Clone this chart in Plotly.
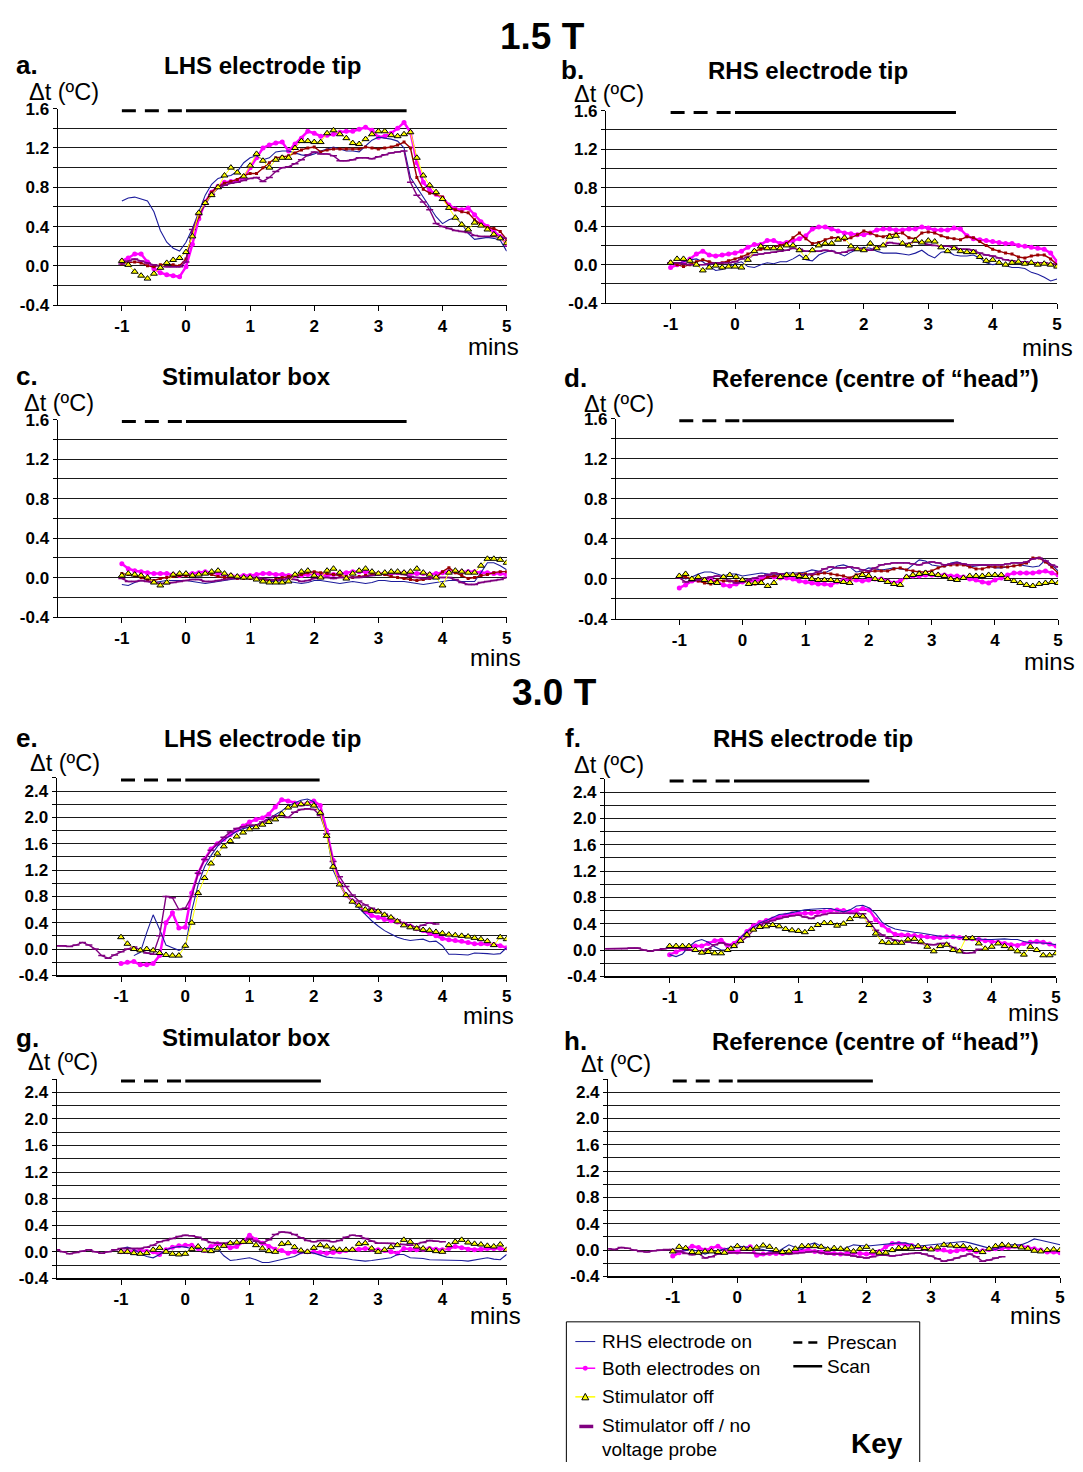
import numpy as np
import plotly.graph_objects as go

W, H = 1083, 1472
STEP = 0.1  # sampling interval of the recordings (min)

# ---------------- 1.5 T data (Δt in °C, samples every 0.1 min) ----------------
# panel a: LHS electrode tip, start -1.0 min
a_blue = [0.66,0.69,0.70,0.68,0.66,0.55,0.36,0.24,0.18,0.15,
          0.24,0.38,0.56,0.72,0.83,0.89,0.91,0.92,0.96,1.05,
          1.10,1.12,1.08,1.10,1.16,1.17,1.17,1.15,1.13,1.12,
          1.14,1.17,1.19,1.21,1.19,1.17,1.17,1.16,1.22,1.28,
          1.31,1.30,1.29,1.27,1.20,0.90,0.80,0.70,0.60,0.50,
          0.43,0.47,0.49,0.43,0.33,0.27,0.28,0.29,0.28,0.26,0.15]
a_mag = [0.05,0.08,0.12,0.12,0.04,-0.03,-0.07,-0.09,-0.10,-0.11,
         -0.01,0.22,0.48,0.65,0.75,0.81,0.85,0.86,0.87,0.90,
         1.00,1.10,1.20,1.23,1.25,1.26,1.17,1.24,1.30,1.37,
         1.35,1.32,1.33,1.34,1.36,1.37,1.37,1.39,1.41,1.38,
         1.31,1.32,1.35,1.40,1.46,1.36,1.05,0.85,0.77,0.73,
         0.69,0.62,0.58,0.57,0.59,0.52,0.45,0.40,0.35,0.30,0.22]
a_yel = [0.05,0.01,-0.06,-0.10,-0.13,-0.08,-0.02,0.03,0.06,0.08,
         0.14,0.30,0.54,0.64,0.72,0.80,0.92,1.00,0.95,0.91,
         1.02,1.14,1.07,1.00,1.08,1.10,1.10,1.20,1.27,1.27,
         1.26,1.26,1.35,1.38,1.34,1.30,1.25,1.24,1.29,1.34,
         1.37,1.37,1.33,1.32,1.34,1.36,1.10,0.92,0.82,0.75,
         0.68,0.59,0.49,0.42,0.37,0.44,0.41,0.37,0.32,0.28,0.23]
a_red = [0.02,0.03,0.04,0.03,0.00,-0.01,0.01,0.02,0.01,0.00,
         0.07,0.34,0.50,0.65,0.75,0.81,0.84,0.86,0.88,0.92,
         0.94,0.94,1.00,1.05,1.10,1.11,1.12,1.15,1.18,1.20,
         1.21,1.16,1.18,1.19,1.19,1.19,1.19,1.19,1.21,1.20,
         1.19,1.20,1.21,1.23,1.26,1.20,0.90,0.78,0.74,0.73,
         0.70,0.60,0.57,0.55,0.54,0.47,0.42,0.39,0.38,0.35,0.27]
a_pur = [0.02,0.05,0.07,0.05,0.03,0.01,0.00,-0.01,-0.01,-0.01,
         0.04,0.37,0.52,0.63,0.73,0.79,0.82,0.84,0.85,0.87,
         0.89,0.90,0.86,0.90,0.96,1.00,1.01,1.04,1.08,1.13,
         1.16,1.14,1.14,1.12,1.07,1.07,1.08,1.10,1.10,1.09,
         1.11,1.13,1.15,1.16,1.17,0.85,0.72,0.65,0.57,0.43,
         0.40,0.38,0.36,0.35,0.34,0.31,0.30,0.30,0.30,0.29,0.28]

# panel b: RHS electrode tip
b_blue = [0.03,0.01,0.03,0.05,0.06,0.03,-0.02,-0.06,-0.05,-0.02,
          0.01,0.03,-0.02,-0.03,0.00,0.02,0.01,0.03,0.03,0.06,
          0.10,0.05,0.04,0.10,0.13,0.15,0.12,0.09,0.13,0.16,
          0.18,0.17,0.14,0.12,0.12,0.12,0.11,0.10,0.12,0.15,
          0.10,0.07,0.13,0.14,0.10,0.09,0.09,0.10,0.07,0.02,
          0.00,0.01,-0.01,-0.03,-0.03,-0.04,-0.08,-0.10,-0.13,-0.17,-0.15]
b_mag = [-0.03,0.00,0.03,0.06,0.11,0.14,0.10,0.09,0.10,0.11,
         0.12,0.14,0.18,0.21,0.21,0.25,0.25,0.22,0.23,0.25,
         0.27,0.30,0.37,0.39,0.39,0.37,0.35,0.33,0.32,0.31,
         0.31,0.33,0.36,0.37,0.37,0.36,0.36,0.37,0.37,0.39,
         0.38,0.36,0.36,0.36,0.38,0.37,0.30,0.27,0.26,0.25,
         0.24,0.23,0.22,0.22,0.20,0.19,0.18,0.17,0.16,0.12,0.03]
b_yel = [0.02,0.06,0.06,0.04,0.00,-0.06,-0.03,-0.01,-0.03,-0.02,
         -0.02,-0.03,0.05,0.14,0.19,0.17,0.17,0.17,0.20,0.20,
         0.15,0.07,0.15,0.20,0.22,0.22,0.26,0.28,0.19,0.16,
         0.15,0.22,0.17,0.20,0.29,0.30,0.22,0.20,0.25,0.23,
         0.25,0.24,0.18,0.14,0.17,0.14,0.13,0.13,0.08,0.04,
         0.05,0.02,0.00,0.02,0.03,0.01,0.02,0.00,0.01,0.00,-0.02]
b_red = [0.03,0.00,-0.02,0.00,0.03,0.05,0.03,0.01,0.02,0.04,
         0.06,0.08,0.11,0.14,0.16,0.17,0.18,0.20,0.22,0.28,
         0.33,0.27,0.22,0.23,0.26,0.28,0.28,0.26,0.28,0.31,
         0.35,0.33,0.30,0.29,0.31,0.32,0.33,0.28,0.27,0.33,
         0.34,0.33,0.30,0.28,0.27,0.26,0.29,0.28,0.24,0.20,
         0.16,0.14,0.12,0.11,0.08,0.07,0.09,0.10,0.10,0.06,0.00]
b_pur = [0.02,0.02,0.01,0.00,0.00,0.00,0.01,0.02,0.02,0.02,
         0.03,0.06,0.08,0.10,0.11,0.12,0.13,0.14,0.15,0.17,
         0.16,0.14,0.14,0.14,0.15,0.14,0.12,0.13,0.15,0.17,
         0.16,0.15,0.18,0.20,0.23,0.22,0.21,0.22,0.24,0.23,
         0.21,0.20,0.19,0.19,0.18,0.16,0.16,0.15,0.12,0.10,
         0.09,0.07,0.05,0.04,0.03,0.03,0.02,0.02,0.02,0.01,0.00]

# panel c: stimulator box
c_blue = [-0.07,-0.08,-0.05,-0.03,-0.04,-0.05,-0.04,-0.03,-0.03,-0.03,
          -0.03,-0.04,-0.05,-0.06,-0.05,-0.04,-0.03,-0.02,-0.01,0.00,
          0.00,-0.01,-0.03,-0.04,-0.04,-0.03,-0.04,-0.05,-0.06,-0.05,
          -0.03,-0.03,-0.04,-0.05,-0.06,-0.05,-0.04,-0.05,-0.06,-0.05,
          -0.03,-0.03,-0.04,-0.04,-0.04,-0.05,-0.06,-0.07,-0.06,-0.05,
          -0.04,-0.03,-0.03,-0.04,-0.04,-0.04,0.05,0.15,0.15,0.12,0.08]
c_mag = [0.14,0.09,0.07,0.06,0.05,0.04,0.04,0.04,0.03,0.02,
         0.03,0.04,0.05,0.06,0.05,0.04,0.03,0.02,0.01,0.02,
         0.02,0.03,0.04,0.04,0.03,0.03,0.02,0.02,0.02,0.03,
         0.04,0.03,0.02,0.03,0.04,0.05,0.06,0.06,0.06,0.05,
         0.04,0.04,0.04,0.05,0.05,0.04,0.04,0.04,0.03,0.04,
         0.05,0.06,0.06,0.06,0.06,0.06,0.05,0.05,0.04,0.04,0.03]
c_yel = [0.02,0.04,0.03,0.02,0.00,-0.05,-0.08,-0.05,0.03,0.04,
         0.04,0.02,0.03,0.04,0.06,0.07,0.04,0.02,0.01,0.00,
         0.00,-0.02,-0.04,-0.05,-0.05,-0.05,-0.04,0.03,0.06,0.07,
         0.02,0.00,0.07,0.09,0.05,-0.01,0.04,0.07,0.09,0.06,
         0.04,0.05,0.06,0.06,0.05,0.06,0.09,0.05,0.03,0.00,
         -0.08,0.05,0.07,0.06,0.05,0.05,0.12,0.19,0.19,0.18,0.15]
c_red = [0.04,0.03,0.02,0.00,-0.02,-0.03,-0.01,0.00,0.01,0.02,
         0.02,0.02,0.03,0.04,0.03,0.01,0.00,0.00,-0.01,-0.01,
         -0.01,-0.01,-0.02,-0.03,-0.02,0.00,0.01,0.02,0.03,0.05,
         0.06,0.05,0.04,0.03,0.02,0.01,0.00,0.01,0.02,0.03,
         0.04,0.03,0.01,0.00,-0.01,-0.02,-0.03,-0.02,-0.01,0.00,
         0.06,0.10,0.05,0.02,-0.01,0.00,0.02,0.03,0.05,0.06,0.06]
c_pur = [-0.01,-0.04,-0.04,-0.03,-0.04,-0.05,-0.06,-0.06,-0.05,-0.04,
         -0.03,-0.02,-0.02,-0.04,-0.04,-0.03,-0.02,-0.01,-0.01,0.00,
         0.00,0.00,-0.01,-0.02,-0.03,-0.02,-0.01,-0.02,-0.04,-0.03,
         -0.01,0.00,0.00,-0.01,0.00,0.00,0.00,0.00,0.01,0.02,
         0.03,0.04,0.04,0.04,0.03,0.01,0.00,-0.01,-0.01,0.00,
         0.00,0.00,-0.02,-0.05,-0.07,-0.07,-0.05,-0.04,-0.03,-0.02,0.00]

# panel d: reference (centre of head)
d_blue = [0.03,0.00,0.02,0.05,0.07,0.07,0.05,0.03,0.05,0.05,
          0.03,0.04,0.05,0.06,0.05,0.04,0.05,0.06,0.06,0.06,
          0.07,0.09,0.08,0.06,0.09,0.13,0.14,0.12,0.07,0.08,
          0.11,0.10,0.09,0.10,0.11,0.10,0.09,0.14,0.19,0.18,
          0.14,0.13,0.12,0.16,0.17,0.15,0.12,0.13,0.14,0.13,
          0.11,0.11,0.12,0.13,0.14,0.13,0.12,0.13,0.19,0.14,0.08]
d_mag = [-0.09,-0.06,-0.02,-0.01,-0.01,-0.01,-0.03,-0.06,-0.07,-0.05,
         -0.03,-0.02,-0.02,0.00,0.03,0.02,0.01,0.01,0.00,-0.02,
         -0.03,-0.04,-0.05,-0.05,-0.06,-0.03,-0.01,-0.01,-0.01,-0.02,
         -0.01,0.00,0.00,-0.02,-0.04,-0.02,0.02,0.03,0.03,0.04,
         0.04,0.04,0.04,0.03,0.03,0.02,0.00,-0.01,-0.03,-0.04,
         -0.01,0.01,0.04,0.06,0.06,0.06,0.06,0.07,0.08,0.06,0.04]
d_yel = [0.03,0.05,0.00,0.02,-0.01,-0.03,-0.04,0.02,0.04,0.02,
         -0.01,-0.05,-0.04,-0.04,-0.07,-0.04,0.02,0.04,0.04,0.03,
         0.02,0.00,-0.01,-0.01,-0.01,-0.02,-0.03,-0.04,0.02,0.04,
         0.03,0.00,-0.01,-0.03,-0.05,-0.06,0.02,0.04,0.05,0.06,
         0.05,0.04,0.03,0.00,-0.01,0.01,0.03,0.03,0.03,0.04,
         0.04,0.04,0.00,-0.02,-0.04,-0.06,-0.07,-0.05,-0.04,-0.03,-0.04]
d_red = [0.03,0.02,0.00,-0.02,-0.04,-0.05,-0.01,-0.02,-0.02,-0.02,
         -0.02,-0.04,-0.05,-0.02,0.02,0.03,0.03,0.03,0.04,0.05,
         0.05,0.04,0.05,0.06,0.05,0.04,0.03,0.01,0.04,0.06,
         0.07,0.08,0.08,0.08,0.10,0.11,0.09,0.08,0.07,0.07,
         0.08,0.11,0.13,0.14,0.14,0.14,0.12,0.10,0.10,0.12,
         0.12,0.12,0.12,0.13,0.14,0.16,0.21,0.21,0.17,0.12,0.06]
d_pur = [0.01,-0.03,-0.02,-0.01,0.01,0.02,0.03,0.01,-0.02,-0.04,
         -0.03,-0.01,0.01,0.03,0.04,0.06,0.05,0.04,0.03,0.04,
         0.04,0.05,0.07,0.10,0.12,0.11,0.11,0.12,0.11,0.09,
         0.08,0.11,0.14,0.15,0.16,0.16,0.16,0.15,0.14,0.16,
         0.17,0.16,0.14,0.15,0.16,0.15,0.14,0.14,0.14,0.14,
         0.14,0.14,0.15,0.16,0.16,0.17,0.20,0.21,0.18,0.14,0.12]

# ---------------- 3.0 T data ----------------
# panel e: LHS electrode tip (purple starts -2.0, blue starts -0.8)
e_blue = [-0.10,-0.05,0.25,0.52,0.30,0.06,0.02,-0.02,
          0.02,0.58,0.98,1.25,1.42,1.56,1.66,1.73,1.79,1.83,
          1.86,1.88,1.93,1.98,2.04,2.10,2.17,2.22,2.26,2.28,
          2.24,2.08,1.75,1.20,0.98,0.82,0.72,0.62,0.52,0.43,
          0.35,0.28,0.23,0.18,0.15,0.13,0.14,0.15,0.11,0.12,
          0.05,-0.08,-0.08,-0.09,-0.09,-0.06,-0.06,-0.07,-0.08,-0.07,0.02]
e_mag = [-0.22,-0.20,-0.19,-0.24,-0.24,-0.22,-0.10,0.40,0.55,0.32,
         0.33,0.85,1.15,1.36,1.52,1.60,1.67,1.74,1.81,1.87,
         1.93,1.97,1.99,2.05,2.16,2.27,2.25,2.22,2.20,2.21,
         2.25,2.18,1.80,1.35,1.00,0.82,0.73,0.67,0.57,0.51,
         0.48,0.45,0.43,0.41,0.38,0.35,0.31,0.28,0.24,0.20,
         0.16,0.14,0.13,0.12,0.10,0.08,0.08,0.08,0.07,0.05,0.02]
e_yel = [0.18,0.08,0.00,-0.02,0.00,-0.02,-0.06,-0.09,-0.10,-0.10,
         0.05,0.40,0.85,1.08,1.30,1.45,1.56,1.64,1.71,1.77,
         1.82,1.85,1.89,1.93,1.97,2.05,2.15,2.18,2.20,2.21,
         2.18,2.07,1.72,1.25,0.98,0.82,0.72,0.66,0.60,0.58,
         0.57,0.52,0.48,0.42,0.36,0.33,0.31,0.29,0.28,0.26,
         0.24,0.22,0.21,0.20,0.19,0.17,0.15,0.12,0.06,0.18,0.15]
e_pur = [0.05,0.05,0.04,0.06,0.10,0.06,0.00,-0.10,-0.14,-0.09,
         -0.04,0.00,0.03,-0.02,-0.06,-0.08,0.20,0.80,0.78,0.60,
         0.62,0.80,1.15,1.36,1.50,1.60,1.70,1.78,1.83,1.86,
         1.88,1.88,1.93,1.97,2.02,2.03,2.00,2.08,2.12,2.13,
         2.12,2.03,1.75,1.33,1.10,0.95,0.82,0.73,0.67,0.62,
         0.57,0.53,0.48,0.44,0.39,0.35,0.33,0.36,0.40,0.38]

# panel f: RHS electrode tip (purple starts -2.0)
f_blue = [-0.07,-0.10,-0.06,0.05,0.13,0.16,0.12,0.05,0.00,0.00,
          0.05,0.19,0.28,0.35,0.41,0.45,0.50,0.54,0.55,0.57,
          0.60,0.61,0.62,0.63,0.63,0.63,0.60,0.58,0.61,0.67,
          0.68,0.64,0.55,0.42,0.36,0.32,0.30,0.28,0.27,0.26,
          0.24,0.22,0.21,0.21,0.20,0.19,0.18,0.17,0.16,0.16,
          0.16,0.17,0.17,0.16,0.16,0.13,0.11,0.11,0.11,0.10,0.08]
f_mag = [-0.07,-0.03,0.02,0.05,0.06,0.06,0.10,0.14,0.15,0.07,
         0.10,0.18,0.28,0.37,0.42,0.45,0.47,0.50,0.53,0.55,
         0.56,0.56,0.56,0.57,0.58,0.60,0.61,0.60,0.58,0.60,
         0.63,0.61,0.46,0.38,0.30,0.24,0.23,0.23,0.22,0.21,
         0.20,0.19,0.19,0.20,0.20,0.19,0.18,0.17,0.16,0.14,
         0.13,0.12,0.10,0.08,0.07,0.10,0.12,0.13,0.12,0.09,0.06]
f_yel = [0.06,0.06,0.06,0.06,0.00,-0.04,-0.03,-0.05,-0.05,0.00,
         0.06,0.14,0.23,0.31,0.35,0.36,0.38,0.36,0.32,0.30,
         0.29,0.27,0.32,0.38,0.41,0.41,0.37,0.40,0.47,0.52,
         0.51,0.38,0.25,0.12,0.11,0.11,0.11,0.16,0.17,0.13,
         0.05,-0.02,0.06,0.08,0.00,-0.02,0.18,0.18,0.10,0.02,
         0.05,0.10,0.06,0.02,-0.02,-0.07,0.05,0.00,-0.08,-0.08,-0.05]
f_pur = [0.02,0.02,0.02,0.02,0.03,0.03,0.00,-0.02,0.00,0.02,
         0.03,0.03,0.02,0.00,-0.01,-0.02,0.02,0.08,0.11,0.08,
         0.06,0.12,0.20,0.30,0.37,0.42,0.45,0.48,0.50,0.52,
         0.53,0.50,0.48,0.52,0.54,0.56,0.56,0.56,0.56,0.56,
         0.55,0.43,0.30,0.23,0.18,0.15,0.13,0.12,0.11,0.10,
         0.08,0.08,0.10,0.10,0.04,0.00,-0.05,-0.04,0.01]

# panel g: stimulator box (purple starts -2.0)
g_blue = [0.05,0.07,0.04,-0.03,-0.07,-0.09,-0.04,0.03,0.06,0.08,
          0.07,0.05,0.05,0.05,0.05,0.05,-0.06,-0.13,-0.12,-0.10,
          -0.09,-0.12,-0.16,-0.16,-0.14,-0.12,-0.10,-0.07,-0.02,0.00,
          -0.02,-0.05,-0.08,-0.09,-0.09,-0.10,-0.12,-0.13,-0.14,-0.13,
          -0.12,-0.11,-0.09,-0.04,-0.04,-0.09,-0.09,-0.10,-0.12,-0.12,
          -0.12,-0.12,-0.12,-0.13,-0.14,-0.12,-0.10,-0.09,-0.11,-0.12,-0.04]
g_mag = [0.00,0.00,0.01,0.02,0.01,0.00,-0.04,0.03,0.07,0.09,
         0.10,0.10,0.05,0.02,0.08,0.12,0.10,0.06,0.08,0.15,
         0.25,0.18,0.13,0.08,0.04,0.02,-0.02,0.00,0.00,0.00,
         0.00,-0.01,-0.02,-0.01,0.00,0.02,0.03,0.04,0.05,0.04,
         0.03,0.02,0.00,-0.02,0.05,0.04,0.03,0.04,0.05,0.04,
         0.03,0.05,0.08,0.06,0.04,0.03,0.04,0.05,0.05,0.05,0.03]
g_yel = [0.00,0.00,-0.02,-0.03,-0.02,0.03,0.06,0.00,-0.03,-0.04,
         -0.03,0.04,0.08,0.02,0.01,0.05,0.09,0.13,0.14,0.15,
         0.15,0.10,0.05,0.01,0.00,0.12,0.13,0.07,0.02,0.00,
         0.06,0.10,0.08,0.05,0.03,0.03,0.03,0.12,0.13,0.05,
         0.00,0.03,0.07,0.10,0.18,0.15,0.08,0.05,0.03,0.01,
         0.00,0.10,0.15,0.18,0.14,0.12,0.11,0.09,0.08,0.11,0.03]
g_pur = [0.03,0.00,-0.03,-0.01,0.01,0.03,0.00,-0.02,0.00,0.03,
         0.05,0.05,0.05,0.05,0.07,0.10,0.15,0.17,0.20,0.23,
         0.25,0.24,0.22,0.18,0.14,0.13,0.13,0.14,0.13,0.15,
         0.20,0.16,0.13,0.18,0.26,0.30,0.29,0.26,0.21,0.17,
         0.15,0.17,0.17,0.15,0.17,0.22,0.25,0.24,0.20,0.16,
         0.13,0.13,0.13,0.12,0.11,0.10,0.12,0.14,0.17,0.16,0.15]

# panel h: reference (purple starts -2.0)
h_blue = [-0.04,-0.02,-0.01,0.01,-0.02,-0.06,-0.03,-0.01,0.01,0.04,
          0.06,0.05,0.03,0.02,0.01,-0.02,-0.04,0.02,0.08,0.04,
          0.01,0.08,0.11,0.06,0.03,0.02,0.01,0.04,0.08,0.07,
          0.06,0.07,0.08,0.10,0.11,0.11,0.11,0.09,0.06,0.07,
          0.08,0.10,0.11,0.12,0.13,0.13,0.11,0.08,0.06,0.03,
          0.01,0.05,0.08,0.08,0.08,0.12,0.17,0.15,0.13,0.10,0.08]
h_mag = [-0.09,-0.04,0.02,0.06,0.04,0.00,0.03,0.06,0.00,-0.02,
         -0.03,0.03,0.05,-0.08,-0.06,-0.05,-0.05,-0.05,-0.04,-0.02,
         -0.01,0.00,-0.02,-0.03,-0.04,-0.05,-0.06,-0.05,-0.04,-0.05,
         -0.06,-0.05,-0.02,0.05,0.10,0.10,0.08,0.07,0.05,0.03,
         0.02,0.01,0.00,-0.02,-0.01,0.01,0.00,-0.02,-0.01,0.01,
         0.02,0.03,0.04,0.06,0.06,0.04,0.02,0.00,-0.03,-0.03,-0.04]
h_yel = [-0.02,0.05,0.03,-0.03,-0.04,-0.02,-0.02,-0.03,-0.04,0.02,
         0.06,0.02,0.02,0.04,0.07,0.05,0.00,-0.03,-0.02,0.02,
         0.06,0.06,0.06,0.05,0.01,0.03,0.02,0.01,-0.02,0.02,
         0.05,-0.02,-0.04,-0.04,0.00,0.03,0.03,0.04,0.06,0.03,
         0.01,0.04,0.08,0.07,0.06,0.06,0.03,0.00,-0.03,0.02,
         0.06,0.08,0.07,0.06,0.04,0.02,-0.01,-0.02,0.00,0.01,0.00]
h_pur = [0.02,0.01,0.04,0.03,0.00,-0.02,-0.03,-0.01,0.00,0.01,
         0.01,-0.02,-0.05,-0.07,-0.05,-0.12,-0.10,-0.06,-0.05,-0.04,
         -0.04,-0.04,-0.04,-0.05,-0.06,-0.05,-0.04,-0.05,-0.06,-0.05,
         -0.04,-0.03,-0.02,-0.04,-0.06,-0.06,-0.06,-0.07,-0.09,-0.11,
         -0.12,-0.10,-0.08,-0.08,-0.09,-0.08,-0.06,-0.05,-0.04,-0.06,
         -0.09,-0.13,-0.17,-0.15,-0.12,-0.09,-0.06,-0.10,-0.17,-0.15,
         -0.12,-0.10]

# scan timing (min): prescan from -1 to 0, scan from 0 to scan end
PRESCAN_START = -1.0
SCAN_START = 0.0
scan_end_15 = [3.44, 3.43, 3.44, 3.35]
scan_end_30 = [2.09, 2.10, 2.11, 2.10]

x_tick_vals = [-1, 0, 1, 2, 3, 4, 5]
y_ticks_15 = [-0.4, 0.0, 0.4, 0.8, 1.2, 1.6]
y_ticks_30 = [-0.4, 0.0, 0.4, 0.8, 1.2, 1.6, 2.0, 2.4]

SERIES_NAMES = {
    "blue": "RHS electrode on",
    "mag": "Both electrodes on",
    "yel": "Stimulator off",
    "red": "Stimulator off (repeat)",
    "pur": "Stimulator off / no voltage probe",
}

# ---------------- styling ----------------
FONT = "Liberation Sans, Arial, sans-serif"
STYLE = {
    "mag": dict(mode="lines+markers", line=dict(color="#ff00ff", width=2.5),
                marker=dict(symbol="circle", size=5, color="#ff00ff")),
    "blue": dict(mode="lines", line=dict(color="#1c1c9c", width=1.1)),
    "red": dict(mode="lines+markers", line=dict(color="#990000", width=1.4),
                marker=dict(symbol="square", size=3, color="#990000")),
    "pur": dict(mode="lines+markers", line=dict(color="#800080", width=1.4),
                marker=dict(symbol="line-ew", size=5, line=dict(color="#800080", width=1.5))),
    "yel": dict(mode="lines+markers", line=dict(color="#ffff00", width=1),
                marker=dict(symbol="triangle-up", size=6, color="#ffff00",
                            line=dict(color="black", width=1))),
}
ORDER = ["mag", "blue", "red", "pur", "yel"]

def P(px_x, px_y):
    return px_x / W, 1 - px_y / H

panels = [
    dict(box=(58, 101, 509, 300), ymax=1.6, yt=y_ticks_15, scan=scan_end_15[0],
         data={"blue": (a_blue, -1.0), "mag": (a_mag, -1.0), "yel": (a_yel, -1.0),
               "red": (a_red, -1.0), "pur": (a_pur, -1.0)}),
    dict(box=(609, 103, 1062, 298), ymax=1.6, yt=y_ticks_15, scan=scan_end_15[1],
         data={"blue": (b_blue, -1.0), "mag": (b_mag, -1.0), "yel": (b_yel, -1.0),
               "red": (b_red, -1.0), "pur": (b_pur, -1.0)}),
    dict(box=(58, 416, 509, 616), ymax=1.6, yt=y_ticks_15, scan=scan_end_15[2],
         data={"blue": (c_blue, -1.0), "mag": (c_mag, -1.0), "yel": (c_yel, -1.0),
               "red": (c_red, -1.0), "pur": (c_pur, -1.0)}),
    dict(box=(619, 415, 1063, 618), ymax=1.6, yt=y_ticks_15, scan=scan_end_15[3],
         data={"blue": (d_blue, -1.0), "mag": (d_mag, -1.0), "yel": (d_yel, -1.0),
               "red": (d_red, -1.0), "pur": (d_pur, -1.0)}),
    dict(box=(57, 779, 509, 979), ymax=2.6, yt=y_ticks_30, scan=scan_end_30[0],
         data={"blue": (e_blue, -0.8), "mag": (e_mag, -1.0), "yel": (e_yel, -1.0),
               "pur": (e_pur, -2.0)}),
    dict(box=(608, 780, 1061, 980), ymax=2.6, yt=y_ticks_30, scan=scan_end_30[1],
         data={"blue": (f_blue, -1.0), "mag": (f_mag, -1.0), "yel": (f_yel, -1.0),
               "pur": (f_pur, -2.0)}),
    dict(box=(57, 1084, 509, 1286), ymax=2.6, yt=y_ticks_30, scan=scan_end_30[2],
         data={"blue": (g_blue, -1.0), "mag": (g_mag, -1.0), "yel": (g_yel, -1.0),
               "pur": (g_pur, -2.0)}),
    dict(box=(611, 1084, 1065, 1284), ymax=2.6, yt=y_ticks_30, scan=scan_end_30[3],
         data={"blue": (h_blue, -1.0), "mag": (h_mag, -1.0), "yel": (h_yel, -1.0),
               "pur": (h_pur, -2.0)}),
]

fig = go.Figure()
layout = dict(width=W, height=H, margin=dict(l=0, r=0, t=0, b=0), autosize=False,
              paper_bgcolor="white", plot_bgcolor="white", showlegend=False,
              font=dict(family=FONT, color="black"))
shapes, annotations = [], []

for i, p in enumerate(panels, start=1):
    xa = "x" if i == 1 else f"x{i}"
    ya = "y" if i == 1 else f"y{i}"
    x0, y0, x1, y1 = p["box"]
    dx0, dy1 = P(x0, y0)
    dx1, dy0 = P(x1, y1)
    for key in ORDER:
        if key not in p["data"]:
            continue
        vals, start = p["data"][key]
        t = np.round(start + STEP * np.arange(len(vals)), 2)
        fig.add_trace(go.Scatter(x=t, y=vals, xaxis=xa, yaxis=ya,
                                 name=SERIES_NAMES[key], hoverinfo="skip", **STYLE[key]))
    # gridlines every 0.2, labels every 0.4
    grid = np.round(np.arange(-0.4, p["ymax"] + 1e-9, 0.2), 1)
    labels = [f"{v:.1f}" if any(abs(v - tv) < 1e-9 for tv in p["yt"]) else "" for v in grid]
    layout["xaxis" if i == 1 else f"xaxis{i}"] = dict(
        domain=[dx0, dx1], anchor=ya, range=[-2, 5], tickvals=x_tick_vals,
        ticktext=[str(v) for v in x_tick_vals], ticks="outside", ticklen=5,
        tickcolor="black", showline=True, linecolor="black", linewidth=1.2,
        showgrid=False, zeroline=False, fixedrange=True,
        tickfont=dict(family=FONT, size=17, weight="bold", color="black"))
    layout["yaxis" if i == 1 else f"yaxis{i}"] = dict(
        domain=[dy0, dy1], anchor=xa, range=[-0.4, p["ymax"]], tickvals=list(grid),
        ticktext=labels, ticks="outside", ticklen=4, tickcolor="black",
        showline=True, linecolor="black", linewidth=1.2, showgrid=True,
        gridcolor="#1a1a1a", gridwidth=1, zeroline=False, fixedrange=True,
        tickfont=dict(family=FONT, size=17, weight="bold", color="black"))
    # prescan (dashed) and scan (solid) bars
    shapes.append(dict(type="line", xref=xa, yref=f"{ya} domain",
                       x0=PRESCAN_START, x1=SCAN_START, y0=0.99, y1=0.99,
                       line=dict(color="black", width=3, dash="14px,9px")))
    shapes.append(dict(type="line", xref=xa, yref=f"{ya} domain",
                       x0=SCAN_START, x1=p["scan"], y0=0.99, y1=0.99,
                       line=dict(color="black", width=3)))

def ann(text, px, py, size, xanchor="left", bold=False, yanchor="middle"):
    x, y = P(px, py)
    annotations.append(dict(text=text, x=x, y=y, xref="paper", yref="paper",
                            xanchor=xanchor, yanchor=yanchor, showarrow=False,
                            font=dict(family=FONT, size=size, color="black",
                                      weight="bold" if bold else "normal")))

# section headings
ann("1.5 T", 545, 28, 37, "center", True)
ann("3.0 T", 557, 692, 37, "center", True)

letters = [("a.", 14, 57), ("b.", 562, 62), ("c.", 14, 372), ("d.", 565, 374),
           ("e.", 14, 739), ("f.", 566, 739), ("g.", 14, 1042), ("h.", 565, 1046)]
titles = [("LHS electrode tip", 264, 57), ("RHS electrode tip", 812, 62),
          ("Stimulator box", 248, 372), ("Reference (centre of “head”)", 880, 374),
          ("LHS electrode tip", 264, 739), ("RHS electrode tip", 817, 739),
          ("Stimulator box", 248, 1042), ("Reference (centre of “head”)", 880, 1046)]
ylabels = [(27, 84), (575, 86), (22, 399), (585, 400), (28, 764), (575, 766), (26, 1067), (582, 1069)]
mins = [(523, 342), (1080, 343), (525, 657), (1082, 661), (518, 1020), (1066, 1017), (525, 1324), (1068, 1324)]
for (lt, lx, ly), (tt, tx, ty), (yx, yy), (mx, my) in zip(letters, titles, ylabels, mins):
    ann(lt, lx, ly, 26, "left", True)
    ann(tt, tx, ty, 24, "center", True)
    ann("Δt (ºC)", yx, yy, 23.5, "left")
    ann("mins", mx, my, 24, "right")

# ---------------- key ----------------
def pshape(**kw):
    d = dict(xref="paper", yref="paper")
    d.update(kw)
    return d

# open-bottomed box (the key is cut by the lower edge of the figure)
kx0, ky0 = P(569, 1330)
kx1, ky1 = P(924, 1472)
shapes.append(pshape(type="path",
                     path=f"M {kx0} {ky1} L {kx0} {ky0} L {kx1} {ky0} L {kx1} {ky1}",
                     line=dict(color="black", width=1)))

def key_line(x0p, x1p, yp, color, width, dash="solid"):
    a, b = P(x0p, yp)
    c, _ = P(x1p, yp)
    shapes.append(pshape(type="line", x0=a, x1=c, y0=b, y1=b,
                         line=dict(color=color, width=width, dash=dash)))

key_line(578, 598, 1350, "#1c1c9c", 1)
ann("RHS electrode on", 603, 1350, 19)
key_line(578, 598, 1377, "#ff00ff", 1.5)
cx0, cy0 = P(585.5, 1374.5)
cx1, cy1 = P(590.5, 1379.5)
shapes.append(pshape(type="circle", x0=cx0, x1=cx1, y0=cy1, y1=cy0,
                     fillcolor="#ff00ff", line=dict(color="#ff00ff", width=0)))
ann("Both electrodes on", 603, 1377, 19)
key_line(578, 598, 1406, "#ffff00", 1.5)
tx0, ty0 = P(584.5, 1409)
tx1, _ = P(591.5, 1409)
tmx, tmy = P(588, 1402.5)
shapes.append(pshape(type="path", path=f"M {tx0} {ty0} L {tx1} {ty0} L {tmx} {tmy} Z",
                     fillcolor="#ffff00", line=dict(color="black", width=1)))
ann("Stimulator off", 603, 1406, 19)
key_line(582, 596, 1436, "#800080", 3.5)
ann("Stimulator off / no", 603, 1435, 19)
ann("voltage probe", 603, 1459, 19)
key_line(797, 826, 1351, "black", 2.5, "9px,6px")
ann("Prescan", 829, 1351, 19)
key_line(797, 826, 1375, "black", 2.5)
ann("Scan", 829, 1375, 19)
ann("Key", 881, 1453, 28, "center", True)

layout["shapes"] = shapes
layout["annotations"] = annotations
fig.update_layout(**layout)
fig.write_html(
    "out.html",
    config={"displayModeBar": False, "staticPlot": True},
    post_script=("document.body.style.margin='0';document.body.style.overflow='hidden';"
                 "document.querySelectorAll('.main-svg').forEach(function(s){s.style.overflow='hidden';});"),
)
